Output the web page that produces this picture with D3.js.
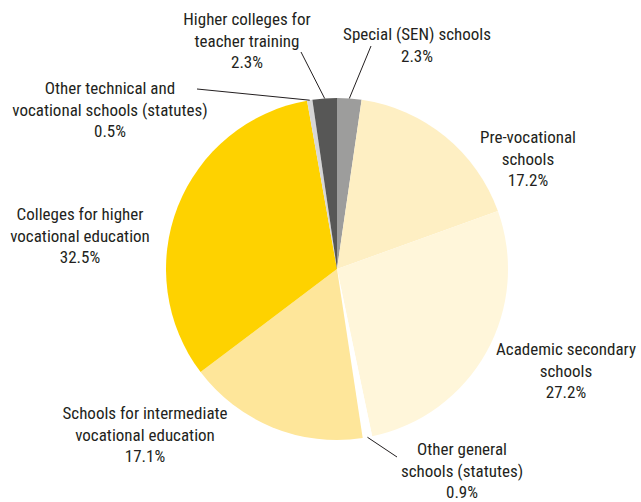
<!DOCTYPE html>
<html>
<head>
<meta charset="utf-8">
<script src="https://cdn.jsdelivr.net/npm/d3@7"></script>
<style>
  html, body { margin: 0; padding: 0; background: #fff; }
  svg text { font-family: "Liberation Sans Narrow", "Roboto Condensed", "Arial Narrow", sans-serif; font-size: 17px; fill: #231f20; }
</style>
</head>
<body>
<svg id="chart" width="641" height="502"></svg>
<script>
// Data (clockwise from 12 o'clock)
const categories = [
  "Special (SEN) schools",
  "Pre-vocational schools",
  "Academic secondary schools",
  "Other general schools (statutes)",
  "Schools for intermediate vocational education",
  "Colleges for higher vocational education",
  "Other technical and vocational schools (statutes)",
  "Higher colleges for teacher training"
];
const shares = [2.3, 17.2, 27.2, 0.9, 17.1, 32.5, 0.5, 2.3];
const labelLines = [
  ["Special (SEN) schools"],
  ["Pre-vocational", "schools"],
  ["Academic secondary", "schools"],
  ["Other general", "schools (statutes)"],
  ["Schools for intermediate", "vocational education"],
  ["Colleges for higher", "vocational education"],
  ["Other technical and", "vocational schools (statutes)"],
  ["Higher colleges for", "teacher training"]
];

// Styling / layout (not data)
const colors = ["#9d9d9c", "#feefc3", "#fff6da", "#ffffff", "#fee69a", "#fed200", "#d6d6d6", "#575756"];
const labelAnchor = [
  { x: 417, y: 40 },
  { x: 528, y: 143 },
  { x: 566, y: 355 },
  { x: 462, y: 455 },
  { x: 145, y: 419 },
  { x: 80,  y: 220 },
  { x: 110, y: 94 },
  { x: 247, y: 25 }
];
const leaderEnd = [
  { x: 371, y: 46 }, null, null,
  { x: 397, y: 457 }, null, null,
  { x: 197, y: 89 },
  { x: 301, y: 52 }
];
const lineH = 21.5;

const cx = 337, cy = 269, r = 171;
const svg = d3.select("#chart");
const g = svg.append("g").attr("transform", `translate(${cx},${cy})`);

const pie = d3.pie().sort(null).value(d => d)(shares);
const arc = d3.arc().innerRadius(0).outerRadius(r);
const edge = d3.arc().innerRadius(r).outerRadius(r);

g.selectAll("path.slice")
  .data(pie)
  .join("path")
  .attr("class", "slice")
  .attr("d", arc)
  .attr("fill", (d, i) => colors[i]);

// Leader lines
pie.forEach((d, i) => {
  if (!leaderEnd[i]) return;
  const [px, py] = edge.centroid(d);
  svg.append("line")
    .attr("x1", cx + px).attr("y1", cy + py)
    .attr("x2", leaderEnd[i].x).attr("y2", leaderEnd[i].y)
    .attr("stroke", "#231f20").attr("stroke-width", 1);
});

// Labels
const fmt = d3.format(".1f");
labelLines.forEach((lines, i) => {
  const t = svg.append("text")
    .attr("text-anchor", "middle")
    .attr("x", labelAnchor[i].x)
    .attr("y", labelAnchor[i].y);
  const all = lines.concat([fmt(shares[i]) + "%"]);
  all.forEach((s, k) => {
    t.append("tspan")
      .attr("x", labelAnchor[i].x)
      .attr("dy", k === 0 ? 0 : lineH)
      .text(s);
  });
});
</script>
</body>
</html>
